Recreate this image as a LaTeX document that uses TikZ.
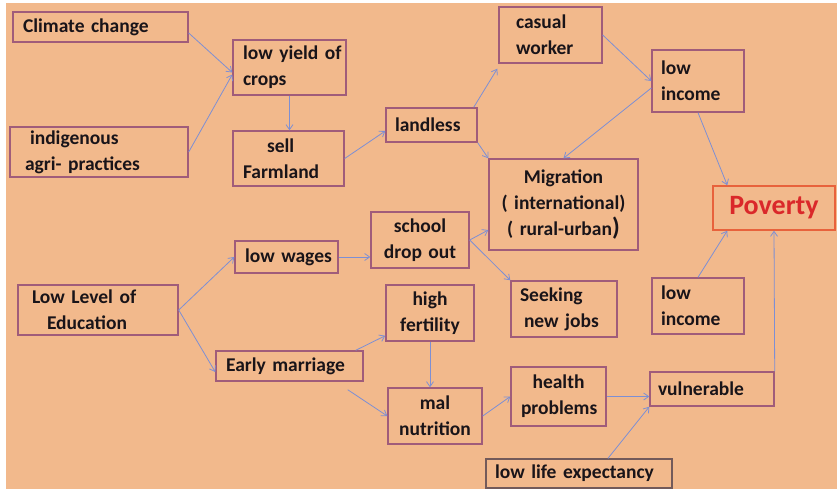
\documentclass[tikz,border=0pt]{standalone}
\usepackage{fontspec}
\setmainfont{Carlito}
\usepackage{tikz}
\usetikzlibrary{arrows.meta}
\definecolor{bgc}{RGB}{242,185,140}
\definecolor{boxc}{RGB}{160,92,122}
\definecolor{lifec}{RGB}{115,90,90}
\definecolor{arrc}{RGB}{125,143,212}
\definecolor{povc}{RGB}{232,98,60}
\definecolor{povt}{RGB}{218,40,42}
\definecolor{txtc}{RGB}{25,20,25}

\begin{document}
\begin{tikzpicture}[x=1pt, y=-1pt,
    box/.style={draw=boxc, line width=1.4pt, text=txtc, align=left, inner xsep=10pt, inner ysep=0pt,
        font=\fontsize{19.5}{26}\selectfont\bfseries},
    arr/.style={draw=arrc, line width=0.8pt, -{Straight Barb[length=5pt, width=7pt]}}]
                \useasboundingbox (0,0) rectangle (837,491);
                \fill[white] (0,0) rectangle (837,491);
                \fill[bgc] (6,3) rectangle (837,489);

                \node[box, minimum width=175pt, minimum height=30pt, text width=155pt] (clim) at (100.5,27) {Climate~change};
                \node[box, minimum width=178pt, minimum height=50pt, text width=148pt, inner xsep=15pt] (indig) at (99,152) {\hspace*{5pt}indigenous\\agri-~practices};
                \node[box, minimum width=113pt, minimum height=55pt, text width=93pt] (yield) at (289.5,67.5) {low~yield~of\\crops};
                \node[box, minimum width=111pt, minimum height=55pt, text width=91pt] (sell) at (288.5,158.5) {\hspace*{24pt}sell\\Farmland};
                \node[box, minimum width=91pt, minimum height=34pt, text width=73pt, inner xsep=9pt] (landless) at (431.5,125) {landless};
                \node[box, minimum width=103pt, minimum height=56pt, text width=69pt, inner xsep=17pt] (casual) at (550.5,35) {casual\\worker};
                \node[box, minimum width=92pt, minimum height=62pt, text width=74pt, inner xsep=9pt] (lowinc1) at (698,81) {low\\income};
                \node[box, minimum width=149pt, minimum height=91pt, text width=129pt, align=center] (migr) at (563.5,204.5)
                    {Migration\\(~international)\\(~rural-urban{\fontsize{25}{25}\selectfont)}};
                \node[box, draw=povc, text=povt, minimum width=122pt, minimum height=44pt, text width=102pt, align=center] (pov) at (774,208)
                    {\fontsize{28}{30}\selectfont\bfseries Poverty};

                \node[box, minimum width=98pt, minimum height=56pt, text width=78pt, align=center] (school) at (420,240) {school\\drop~out};
                \node[box, minimum width=103pt, minimum height=32pt, text width=83pt, align=center] (wages) at (286.5,257) {low~wages};
                \node[box, minimum width=160pt, minimum height=50pt, text width=132pt, inner xsep=14pt] (edu) at (98,310) {Low~Level~of\\\hspace*{15pt}Education};
                \node[box, minimum width=88pt, minimum height=56pt, text width=68pt, align=center] (fert) at (430,313) {high\\fertility};
                \node[box, minimum width=106pt, minimum height=56pt, text width=88pt, inner xsep=9pt] (seek) at (564,309) {Seeking\\\hspace*{4pt}new~jobs};
                \node[box, minimum width=92pt, minimum height=56pt, text width=74pt, inner xsep=9pt] (lowinc2) at (698,306) {low\\income};
                \node[box, minimum width=147pt, minimum height=30pt, text width=127pt] (marr) at (289.5,366) {Early~marriage};
                \node[box, minimum width=94pt, minimum height=56pt, text width=74pt, align=center] (maln) at (435,416) {mal\\nutrition};
                \node[box, minimum width=95pt, minimum height=59pt, text width=75pt, align=center] (health) at (558.5,396.5) {health\\problems};
                \node[box, minimum width=124pt, minimum height=34pt, text width=108pt, inner xsep=8pt] (vuln) at (712,389) {vulnerable};
                \node[box, draw=lifec, minimum width=186pt, minimum height=29pt, text width=168pt, inner xsep=9pt] (life) at (579,473.5) {low~life~expectancy};

                \draw[arr] ([yshift=-6pt]clim.east) -- ([yshift=-5pt]yield.west);
                \draw[arr] (indig.east) -- ([yshift=-7pt]yield.west);
                \draw[arr] (yield.south) -- (yield.south |- sell.north);
                \draw[arr] (sell.east) -- ([yshift=-6pt]landless.west);
                \draw[arr] ([xshift=-4pt]landless.north east) -- ([xshift=-1pt,yshift=-5pt]casual.south west);
                \draw[arr] (casual.east) -- (lowinc1.west);
                \draw[arr] (landless.south east) -- (migr.north west);
                \draw[arr] ([yshift=-7pt]lowinc1.west) -- (migr.north);
                \draw[arr] (lowinc1.south) -- ([xshift=15pt]pov.north west);
                \draw[arr] (lowinc2.north) -- ([xshift=15pt]pov.south west);
                \draw[arr] (vuln.north east) -- (pov.south);
                \draw[arr] (edu.east) -- (wages.west);
                \draw[arr] (edu.east) -- ([yshift=-6pt]marr.west);
                \draw[arr] (wages.east) -- (wages.east -| school.west);
                \draw[arr] (school.east) -- ([yshift=-25.5pt]migr.west);
                \draw[arr] (school.east) -- (seek.north west);
                \draw[arr] ([xshift=-8pt]marr.north east) -- ([yshift=6pt]fert.south west);
                \draw[arr] ([xshift=-16pt,yshift=-8pt]marr.south east) -- (maln.west);
                \draw[arr] (fert.south) -- (fert.south |- maln.north);
                \draw[arr] (maln.east) -- (health.west);
                \draw[arr] (health.east) -- (health.east -| vuln.west);
                \draw[arr] ([xshift=29pt]life.north) -- (vuln.south west);
            \end{tikzpicture}
\end{document}
